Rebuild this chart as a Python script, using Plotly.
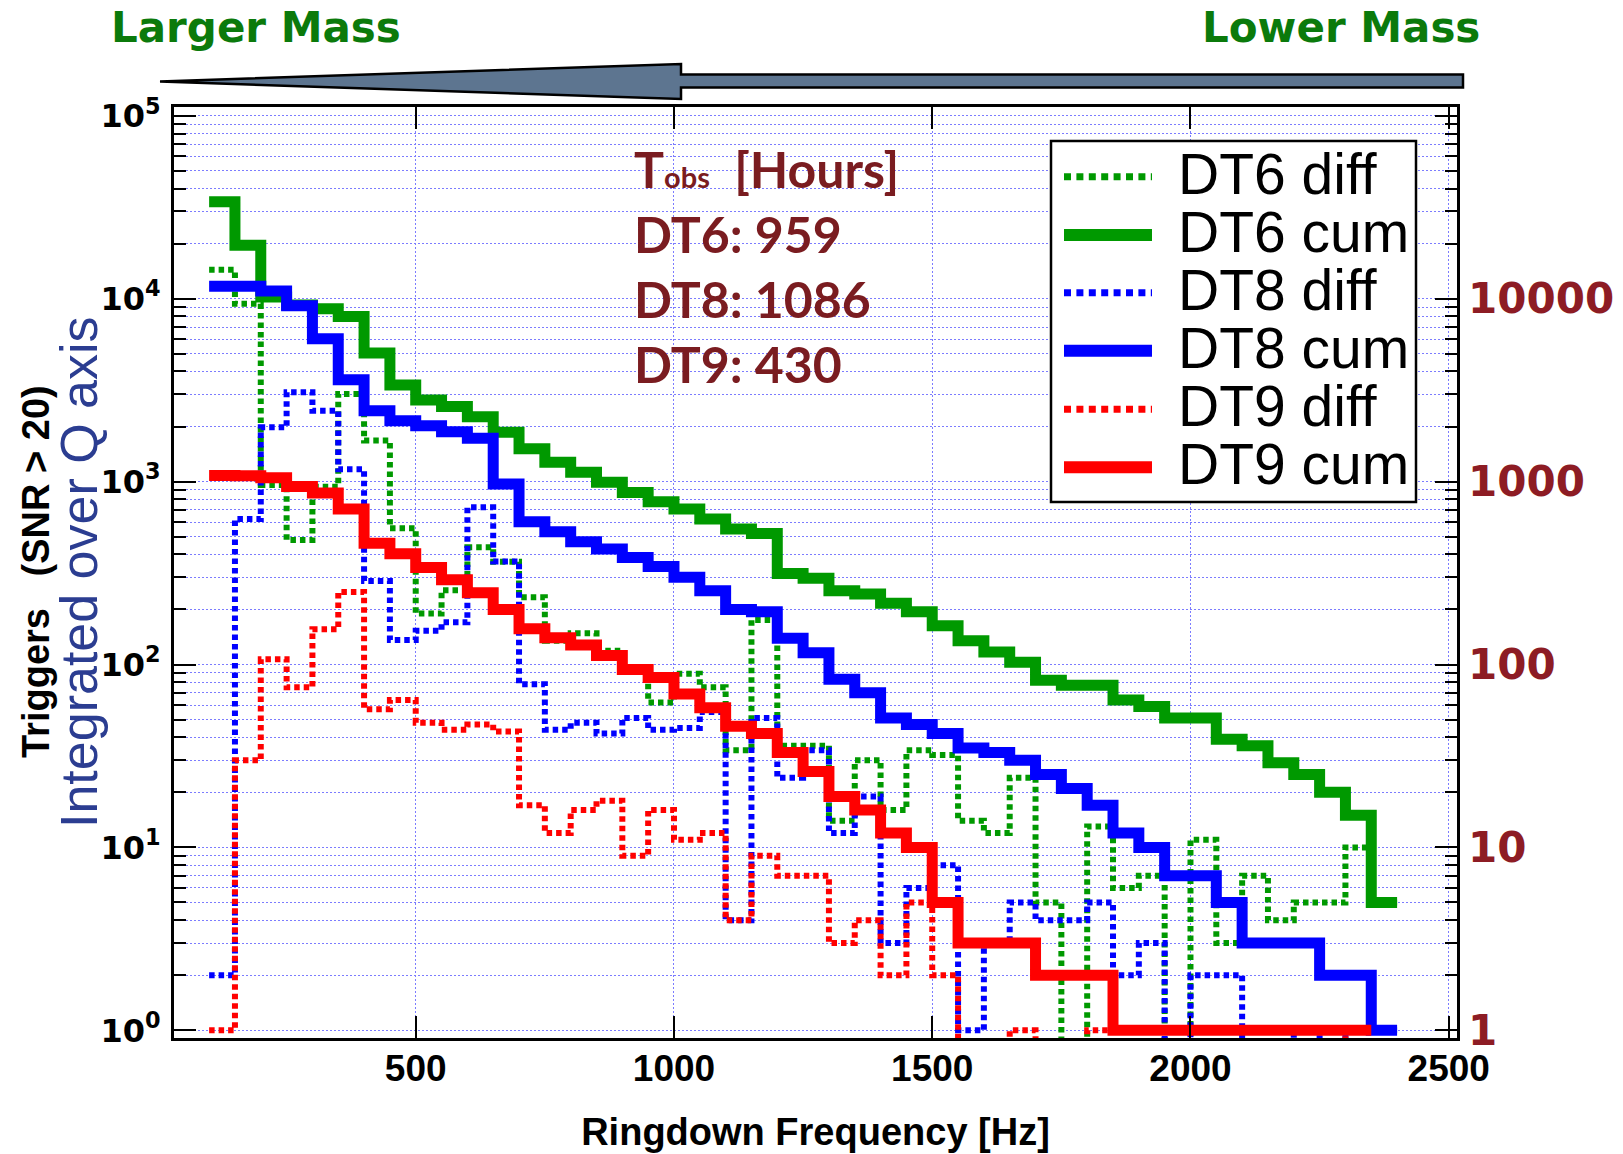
import plotly.graph_objects as go

# ---------------- data ----------------
bin_low_hz = list(range(100, 2400, 50))  # lower edge of each 50 Hz bin

dt6_diff = [14400, 9370, 958, 480, 938, 3015, 1675, 555, 190, 255, 437, 365, 233, 135, 148,
            119, 95, 62, 89, 75, 34, 175, 36, 36, 14, 30, 16, 34, 32, 14, 12, 24, 5, 0, 13,
            6, 7, 0, 11, 3, 7, 4, 5, 5, 10, 5]
dt6_cum = [33900, 19600, 10200, 9250, 8800, 7990, 5040, 3375, 2790, 2570, 2260, 1860, 1510,
           1275, 1125, 992, 873, 776, 708, 624, 550, 521, 314, 296, 253, 243, 216, 194, 163,
           135, 117, 103, 82, 77, 77, 64, 59, 51, 51, 39, 36, 29, 25, 20, 15, 5]
dt8_diff = [2, 624, 1980, 3080, 2440, 1167, 286, 136, 153, 170, 723, 366, 78, 44, 48, 42, 51,
            44, 45, 55, 4, 51, 24, 34, 12, 19, 3, 6, 8, 1, 3, 5, 4, 4, 5, 2, 3, 0, 2, 2, 0, 0,
            1, 0, 1, 1]
dt8_cum = [11700, 11700, 11000, 9150, 6030, 3600, 2440, 2150, 2020, 1875, 1725, 970, 604, 532,
           469, 428, 385, 343, 300, 253, 200, 194, 139, 116, 83, 70, 51, 47, 42, 35, 33, 30,
           25, 21, 17, 12, 10, 7, 7, 5, 3, 3, 3, 2, 2, 1]
dt9_diff = [1, 30, 107, 75, 156, 249, 57, 64, 48, 44, 47, 43, 17, 12, 16, 18, 9, 16, 11, 12, 4,
            9, 7, 7, 3, 4, 2, 5, 2, 0, 0, 1, 0, 0, 1, 0, 0, 0, 0, 0, 0, 0, 0, 0, 1]
dt9_cum = [1080, 1078, 1048, 940, 865, 709, 460, 403, 339, 291, 247, 200, 157, 140, 128, 112,
           94, 85, 69, 58, 46, 42, 33, 26, 19, 16, 12, 10, 5, 3, 3, 3, 2, 2, 2, 1, 1, 1, 1, 1,
           1, 1, 1, 1, 1]

series_names = ["DT6 diff", "DT6 cum", "DT8 diff", "DT8 cum", "DT9 diff", "DT9 cum"]
tobs_runs = ["DT6", "DT8", "DT9"]
tobs_hours = [959, 1086, 430]

y_tick_vals = [1, 10, 100, 1000, 10000, 100000]
y_tick_text = ["10<sup>0</sup>", "10<sup>1</sup>", "10<sup>2</sup>", "10<sup>3</sup>",
               "10<sup>4</sup>", "10<sup>5</sup>"]
y2_tick_vals = [1, 10, 100, 1000, 10000]
y2_tick_text = ["1", "10", "100", "1000", "10000"]
x_tick_vals = [500, 1000, 1500, 2000, 2500]

# ---------------- styling ----------------
W, H = 1623, 1154
FL, FR, FT, FB = 174, 1457, 107, 1038  # plot frame in page pixels
BIN_W = 50
GREEN, BLUE, RED = "#009900", "#0000ff", "#ff0000"
GRID = "#7c7cff"
DARKRED = "#7a1c20"
AXRED = "#8d1c24"
NAVY = "#2b3d91"
MGREEN = "#0b7a0b"
SANS = "Liberation Sans, Arial, sans-serif"


def px_x(p):
    return (p - FL) / (FR - FL)


def px_y(p):
    return (FB - p) / (FB - FT)


def step_xy(vals):
    n = len(vals)
    xs = bin_low_hz[:n] + [bin_low_hz[n - 1] + BIN_W]
    # empty bins drop below the frame like the original log histogram
    ys = [v if v > 0 else 0.5 for v in vals]
    ys.append(ys[-1])
    return xs, ys


fig = go.Figure()

diff_series = [(dt6_diff, GREEN, series_names[0]), (dt8_diff, BLUE, series_names[2]),
               (dt9_diff, RED, series_names[4])]
cum_series = [(dt6_cum, GREEN, series_names[1]), (dt8_cum, BLUE, series_names[3]),
              (dt9_cum, RED, series_names[5])]

for vals, col, name in diff_series:
    xs, ys = step_xy(vals)
    fig.add_trace(go.Scatter(x=xs, y=ys, mode="lines", name=name,
                             line=dict(shape="hv", color=col, width=6, dash="5.5px,4px")))
for vals, col, name in cum_series:
    xs, ys = step_xy(vals)
    fig.add_trace(go.Scatter(x=xs, y=ys, mode="lines", name=name,
                             line=dict(shape="hv", color=col, width=11)))

# dummy trace for the right-hand axis
fig.add_trace(go.Scatter(x=[], y=[], yaxis="y2", showlegend=False))

minor_vals = [m * 10 ** k for k in range(0, 5) for m in range(2, 10)]

fig.update_layout(
    width=W, height=H,
    margin=dict(l=FL, r=W - FR, t=FT, b=H - FB, pad=0),
    paper_bgcolor="white", plot_bgcolor="white",
    showlegend=False,
    xaxis=dict(
        range=[32, 2516], tickmode="array", tickvals=x_tick_vals,
        ticks="inside", ticklen=22, tickwidth=2, tickcolor="black",
        showline=True, linewidth=3, linecolor="black", mirror="ticks",
        showgrid=True, gridcolor=GRID, gridwidth=1, griddash="2px,2px", zeroline=False,
        tickfont=dict(family=SANS, size=37, color="black", weight="bold"),
        ticklabelstandoff=-4,
        title=dict(text="Ringdown Frequency [Hz]", standoff=30,
                   font=dict(family=SANS, size=38, color="black", weight="bold")),
        automargin=False,
    ),
    yaxis=dict(
        type="log", range=[-0.042, 5.048], tickmode="array",
        tickvals=y_tick_vals, ticktext=y_tick_text,
        ticks="inside", ticklen=22, tickwidth=2, tickcolor="black",
        showline=True, linewidth=3, linecolor="black", mirror="ticks",
        showgrid=True, gridcolor=GRID, gridwidth=1, griddash="2px,2px", zeroline=False,
        tickfont=dict(family="DejaVu Sans, sans-serif", size=32, color="black", weight="bold"),
        ticklabelstandoff=4,
        minor=dict(tickmode="array", tickvals=minor_vals, ticks="inside", ticklen=12,
                   tickwidth=2, tickcolor="black", showgrid=True, gridcolor=GRID,
                   gridwidth=1, griddash="2px,2px"),
        automargin=False,
    ),
    yaxis2=dict(
        type="log", range=[-0.042, 5.048], overlaying="y", side="right", anchor="x",
        tickmode="array", tickvals=y2_tick_vals, ticktext=y2_tick_text,
        showgrid=False, showline=False, ticks="", zeroline=False,
        tickfont=dict(family="DejaVu Sans, sans-serif", size=42, color=AXRED, weight="bold"),
        ticklabelstandoff=10, automargin=False,
    ),
)

shapes = []
# big "mass" arrow above the frame
arrow_pts = [(160, 81.5), (681, 64), (681, 74.5), (1463, 74.5), (1463, 87.5), (681, 87.5),
             (681, 99)]
path = "M " + " L ".join(f"{px_x(a):.5f},{px_y(b):.5f}" for a, b in arrow_pts) + " Z"
shapes.append(dict(type="path", path=path, xref="paper", yref="paper",
                   fillcolor="#5d7590", line=dict(color="black", width=2.5), layer="above"))

# legend box
shapes.append(dict(type="rect", xref="paper", yref="paper",
                   x0=px_x(1051), x1=px_x(1416), y0=px_y(502), y1=px_y(141),
                   fillcolor="white", line=dict(color="black", width=2.5), layer="above"))
legend_rows_y = [176.7, 235, 292.7, 350.7, 409.3, 467.3]
legend_styles = [(GREEN, "dot"), (GREEN, "solid"), (BLUE, "dot"), (BLUE, "solid"),
                 (RED, "dot"), (RED, "solid")]
annotations = []
for name, yrow, (col, kind) in zip(series_names, legend_rows_y, legend_styles):
    if kind == "dot":
        ln = dict(color=col, width=7, dash="7px,5.4px")
    else:
        ln = dict(color=col, width=12)
    shapes.append(dict(type="line", xref="paper", yref="paper",
                       x0=px_x(1064), x1=px_x(1152), y0=px_y(yrow), y1=px_y(yrow),
                       line=ln, layer="above"))
    annotations.append(dict(text=name, xref="paper", yref="paper", x=px_x(1176),
                            y=px_y(yrow - 3), xanchor="left", yanchor="middle",
                            showarrow=False,
                            font=dict(family=SANS, size=57, color="black")))

# observation time block (one text block, four lines)
tobs_lines = ['T<span style="font-size:29px">obs</span>  [Hours]'] + \
    [f"{r}: {h}" for r, h in zip(tobs_runs, tobs_hours)]
annotations.append(dict(
    text="<br>".join(tobs_lines), align="left",
    xref="paper", yref="paper", x=px_x(632), y=px_y(266), xanchor="left", yanchor="middle",
    showarrow=False, font=dict(family="Lato, sans-serif", size=50, color=DARKRED,
                               weight="bold")))

# mass labels
annotations.append(dict(text="Larger Mass", xref="paper", yref="paper", x=px_x(109),
                        y=px_y(28), xanchor="left", yanchor="middle", showarrow=False,
                        font=dict(family="DejaVu Sans, sans-serif", size=42, color=MGREEN,
                                  weight="bold")))
annotations.append(dict(text="Lower Mass", xref="paper", yref="paper", x=px_x(1482),
                        y=px_y(28), xanchor="right", yanchor="middle", showarrow=False,
                        font=dict(family="DejaVu Sans, sans-serif", size=42, color=MGREEN,
                                  weight="bold")))

# y-axis titles
annotations.append(dict(text="Triggers   (SNR > 20)", xref="paper", yref="paper",
                        x=px_x(36), y=px_y(572), xanchor="center", yanchor="middle",
                        textangle=-90, showarrow=False,
                        font=dict(family=SANS, size=38, color="black", weight="bold")))
annotations.append(dict(text="Integrated over Q axis", xref="paper", yref="paper",
                        x=px_x(79), y=px_y(572), xanchor="center", yanchor="middle",
                        textangle=-90, showarrow=False,
                        font=dict(family=SANS, size=52, color=NAVY)))

fig.update_layout(shapes=shapes, annotations=annotations)
fig.write_html("out.html")
